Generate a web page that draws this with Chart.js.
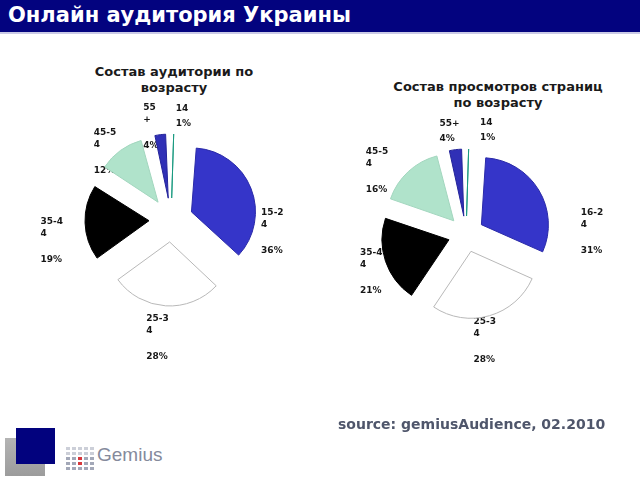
<!DOCTYPE html>
<html>
<head>
<meta charset="utf-8">
<script src="https://cdn.jsdelivr.net/npm/chart.js@4.4.1/dist/chart.umd.min.js"></script>
<style>
  body { margin:0; width:640px; height:480px; background:#fff; position:relative; overflow:hidden; font-family:"DejaVu Sans", Verdana, sans-serif; }
  #header { position:absolute; left:0; top:0; width:640px; height:32px; background:#03037f; border-bottom:2px solid #cacae6; }
  #header span { position:absolute; left:8px; top:3px; color:#fff; font:bold 21px "DejaVu Sans"; white-space:nowrap; }
  .ctitle { position:absolute; text-align:center; font:bold 13px "DejaVu Sans"; color:#1a1a1a; line-height:16px; }
  canvas { position:absolute; }
  #source { position:absolute; left:338px; top:416px; font:bold 14px "DejaVu Sans"; color:#4f566b; white-space:nowrap; }
  #sqGray { position:absolute; left:5px; top:438px; width:40px; height:38px; background:linear-gradient(#b4b4b4, #9c9c9c); }
  #sqNavy { position:absolute; left:16px; top:428px; width:39px; height:36px; background:#02027e; }
  #gemius { position:absolute; left:97px; top:444px; font:19px "Liberation Sans"; color:#858a9c; }
  .dot { position:absolute; width:4px; height:3px; background:#a3a8b8; }
</style>
</head>
<body>
<div id="header"><span>Онлайн аудитория Украины</span></div>

<div class="ctitle" style="left:74px; top:64px; width:200px;">Состав аудитории по<br>возрасту</div>
<div class="ctitle" style="left:368px; top:79px; width:260px;">Состав просмотров страниц<br>по возрасту</div>

<canvas id="graph1" width="342" height="360" style="left:0px; top:40px;"></canvas>
<canvas id="graph2" width="340" height="388" style="left:296px; top:40px;"></canvas>

<div id="source">source: gemiusAudience, 02.2010</div>
<div id="sqGray"></div>
<div id="sqNavy"></div>
<div id="logoDots"></div>
<div id="gemius">Gemius</div>

<script>
// age groups as printed next to each pie (text boxes wrap them)
var audienceLabels = ["14", "15-2\n4", "25-3\n4", "35-4\n4", "45-5\n4", "55\n+"];
var audienceShare = [1, 36, 28, 19, 12, 4];

var pageviewLabels = ["14", "16-2\n4", "25-3\n4", "35-4\n4", "45-5\n4", "55+"];
var pageviewShare = [1, 31, 28, 21, 16, 4];

var sliceColors = ["#22b497", "#3535c9", "#ffffff", "#000000", "#b0e3cb", "#3030b6"];
var sliceBorders = ["#1a9a80", "#2a2aa8", "#b8b8b8", "#000000", "#a2d6be", "#24249a"];

// keeps every exploded slice at the same radius (Chart.js grows thin ones)
// and draws "name / percent" blocks outside each slice, under the slices
var sliceLabels = {
  id: 'sliceLabels',
  afterUpdate: function(chart) {
    var meta = chart.getDatasetMeta(0);
    var R = meta.controller.outerRadius;
    meta.data.forEach(function(arc) {
      var off = (arc.options.offset || 0) / 4;
      var circ = arc.endAngle - arc.startAngle;
      var fix = 1 - Math.sin(Math.min(Math.PI, circ));
      arc.outerRadius = R - off * fix;
    });
  },
  beforeDatasetsDraw: function(chart, args, opts) {
    var ctx = chart.ctx;
    var meta = chart.getDatasetMeta(0);
    var R = meta.controller.outerRadius;
    var values = chart.data.datasets[0].data;
    var total = values.reduce(function(a, b) { return a + b; }, 0);
    ctx.save();
    ctx.font = 'bold 9px "DejaVu Sans"';
    ctx.fillStyle = '#161616';
    ctx.textBaseline = 'middle';
    ctx.textAlign = 'left';
    meta.data.forEach(function(arc, i) {
      var a = (arc.startAngle + arc.endAngle) / 2 + (opts.turn[i] || 0) * Math.PI / 180;
      var r = R + opts.distance[i];
      var lines = chart.data.labels[i].split('\n');
      var pct = Math.round(values[i] / total * 100) + '%';
      var gap = lines.length > 1 ? 26 : 15;
      var h = (lines.length - 1) * 12 + gap + 10;
      var w = Math.max.apply(null, lines.map(function(t) { return ctx.measureText(t).width; }).concat([ctx.measureText(pct).width]));
      var cx = arc.x + Math.cos(a) * r;
      var cy = arc.y + Math.sin(a) * r;
      var x0 = cx - w / 2;
      var y = cy - h / 2 + 5;
      lines.forEach(function(t, k) { ctx.fillText(t, x0, y + k * 12); });
      ctx.fillText(pct, x0, y + (lines.length - 1) * 12 + gap);
    });
    ctx.restore();
  }
};

function makePie(id, labels, values, radius, explode, labelPlace) {
  var ctx = document.getElementById(id).getContext('2d');
  return new Chart(ctx, {
    type: 'pie',
    data: {
      labels: labels,
      datasets: [{
        data: values,
        backgroundColor: sliceColors,
        borderColor: sliceBorders,
        borderWidth: 1,
        offset: explode
      }]
    },
    options: {
      responsive: false,
      animation: false,
      radius: radius,
      plugins: {
        legend: { display: false },
        tooltip: { enabled: false },
        sliceLabels: labelPlace
      }
    },
    plugins: [sliceLabels]
  });
}

// label turns (degrees) and distances mimic the hand-placed labels of the original
var chart1 = makePie('graph1', audienceLabels, audienceShare, 64, 88,
  { turn: [5, 28, 3, -8, -8, -5], distance: [41, 38, 54, 57, 31, 31] });
var chart2 = makePie('graph2', pageviewLabels, pageviewShare, 67, 72,
  { turn: [10, 30, 6, -3, -12, -2], distance: [39, 59, 41, 35, 42, 37] });

// small dotted mark of the Gemius logo
var dots = document.getElementById('logoDots');
for (var c = 0; c < 5; c++) {
  for (var r = 0; r < 5; r++) {
    var d = document.createElement('div');
    d.className = 'dot';
    d.style.left = (66 + c * 6) + 'px';
    d.style.top = (447 + r * 5) + 'px';
    if (r < 2) d.style.opacity = 0.55;
    if (c == 2 && (r == 2 || r == 3)) d.style.background = '#d8383c';
    dots.appendChild(d);
  }
}
</script>
</body>
</html>
